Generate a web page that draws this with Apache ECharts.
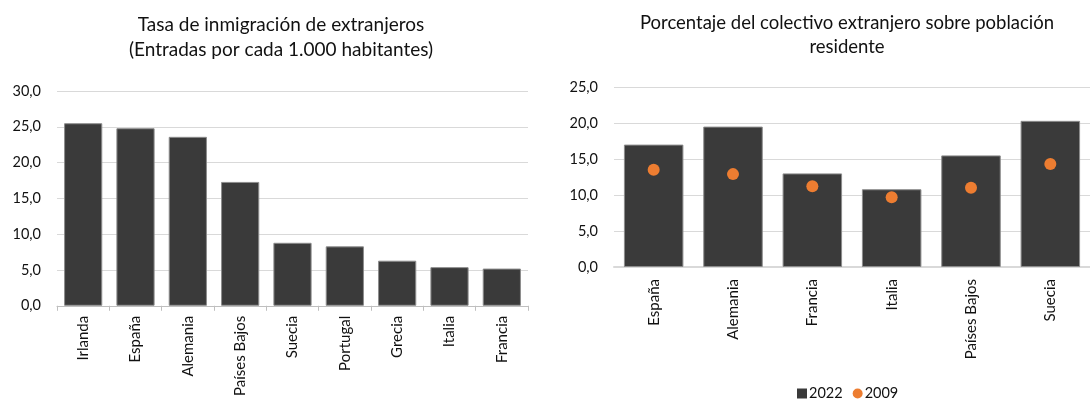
<!DOCTYPE html>
<html>
<head>
<meta charset="utf-8">
<title>Inmigración de extranjeros</title>
<script src="https://cdn.jsdelivr.net/npm/echarts@6/dist/echarts.min.js"></script>
<style>
  html, body { margin: 0; padding: 0; background: #ffffff; }
  #chart { width: 1090px; height: 399px; }
</style>
</head>
<body>
<div id="chart"></div>
<script>
// Tasa de inmigración de extranjeros (entradas por cada 1.000 habitantes)
const tasaPaises = ['Irlanda', 'España', 'Alemania', 'Países Bajos', 'Suecia', 'Portugal', 'Grecia', 'Italia', 'Francia'];
const tasaValores = [25.5, 24.8, 23.6, 17.3, 8.8, 8.3, 6.3, 5.4, 5.2];

// Porcentaje del colectivo extranjero sobre población residente
const pctPaises = ['España', 'Alemania', 'Francia', 'Italia', 'Países Bajos', 'Suecia'];
const pct2022 = [17.0, 19.5, 13.0, 10.8, 15.5, 20.3];
const pct2009 = [13.5, 12.9, 11.2, 9.7, 11.0, 14.3];

const seriesNames = ['2022', '2009'];

const FONT = 'Lato, "Open Sans", sans-serif';
const TEXT = '#111111';
const BAR = '#3a3a3a';
const ORANGE = '#ED7D31';

const fmt = v => v.toFixed(1).replace('.', ',');

const chart = echarts.init(document.getElementById('chart'), null, { renderer: 'canvas' });

chart.setOption({
  animation: false,
  backgroundColor: '#ffffff',
  textStyle: { fontFamily: FONT, color: TEXT },
  title: [
    {
      text: 'Tasa de inmigración de extranjeros\n(Entradas por cada 1.000 habitantes)',
      left: 276, top: 7, textAlign: 'center',
      textStyle: { fontFamily: FONT, fontSize: 19, fontWeight: 'normal', color: TEXT, lineHeight: 25 }
    },
    {
      text: 'Porcentaje del colectivo extranjero sobre población\nresidente',
      left: 842, top: 6, textAlign: 'center',
      textStyle: { fontFamily: FONT, fontSize: 18.5, fontWeight: 'normal', color: TEXT, lineHeight: 24 }
    }
  ],
  legend: {
    left: 797, top: 386, padding: 0,
    itemWidth: 10, itemHeight: 10, itemGap: 10,
    itemStyle: { borderWidth: 0 },
    textStyle: { fontFamily: FONT, fontSize: 14.5, color: TEXT, padding: [0, 0, 0, -3] },
    data: [
      { name: seriesNames[0], icon: 'rect' },
      { name: seriesNames[1], icon: 'circle' }
    ]
  },
  grid: [
    { left: 57, right: 562, top: 91, bottom: 91, containLabel: false },
    { left: 614, right: -13, top: 87, bottom: 132, containLabel: false }
  ],
  xAxis: [
    {
      type: 'category', gridIndex: 0, data: tasaPaises,
      axisLine: { lineStyle: { color: '#bfbfbf', width: 1 } },
      axisTick: { show: true, length: 5, lineStyle: { color: '#bfbfbf' } },
      axisLabel: { rotate: 90, margin: 10, fontSize: 15, color: TEXT, fontFamily: FONT }
    },
    {
      type: 'category', gridIndex: 1, data: pctPaises,
      axisLine: { lineStyle: { color: '#d9d9d9', width: 2 } },
      axisTick: { show: false },
      axisLabel: { rotate: 90, margin: 12, fontSize: 15, color: TEXT, fontFamily: FONT }
    }
  ],
  yAxis: [
    {
      type: 'value', gridIndex: 0, min: 0, max: 30, interval: 5,
      axisLine: { show: false }, axisTick: { show: false },
      splitLine: { lineStyle: { color: '#d9d9d9', width: 1 } },
      axisLabel: { formatter: fmt, margin: 16, fontSize: 14.5, color: TEXT, fontFamily: FONT }
    },
    {
      type: 'value', gridIndex: 1, min: 0, max: 25, interval: 5,
      axisLine: { show: false }, axisTick: { show: false },
      splitLine: { lineStyle: { color: '#d9d9d9', width: 1 } },
      axisLabel: { formatter: fmt, margin: 16, fontSize: 14.5, color: TEXT, fontFamily: FONT }
    }
  ],
  series: [
    {
      name: 'Tasa', type: 'bar', xAxisIndex: 0, yAxisIndex: 0,
      data: tasaValores, barCategoryGap: '27%',
      itemStyle: { color: BAR, borderColor: '#8c8c8c', borderWidth: 1 }
    },
    {
      name: seriesNames[0], type: 'bar', xAxisIndex: 1, yAxisIndex: 1,
      data: pct2022, barCategoryGap: '25%',
      itemStyle: { color: BAR, borderColor: '#8c8c8c', borderWidth: 1 }
    },
    {
      name: seriesNames[1], type: 'scatter', xAxisIndex: 1, yAxisIndex: 1,
      data: pct2009, symbol: 'circle', symbolSize: 12,
      itemStyle: { color: ORANGE, opacity: 1 }, z: 5
    }
  ]
});
</script>
</body>
</html>
